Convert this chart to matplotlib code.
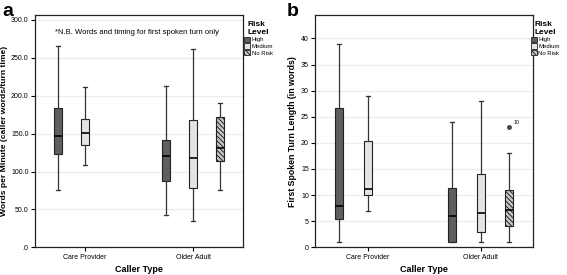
import numpy as np
import matplotlib
matplotlib.use("Agg")
import matplotlib.pyplot as plt
import matplotlib.patches as mpatches

plt.rcParams["font.family"] = ["Liberation Sans", "DejaVu Sans"]
plt.rcParams["hatch.linewidth"] = 0.7

GROUPS = ["Care Provider", "Older Adult"]
LEVELS = ["High", "Medium", "No Risk"]
L_COLOR = {"High": "#5f5f5f", "Medium": "#e4e4e4", "No Risk": "#c8c8c8"}
L_HATCH = {"High": None, "Medium": None, "No Risk": "\\\\\\\\\\\\\\"}
L_OFFSET = {"High": -0.25, "Medium": 0.0, "No Risk": 0.25}

# panel a: words per minute  (group, level, whislo, q1, med, q3, whishi)
WPM_GROUP = [0, 0, 1, 1, 1]
WPM_LEVEL = ["High", "Medium", "High", "Medium", "No Risk"]
WPM_LO = [75.6, 109, 43, 35.3, 75.6]
WPM_Q1 = [123, 135, 88, 78.6, 114.5]
WPM_MED = [146.7, 151, 121, 118.4, 131.3]
WPM_Q3 = [184, 168.8, 141, 168, 172.4]
WPM_HI = [266, 211, 213, 261.7, 191]

# panel b: first spoken turn length
LEN_GROUP = [0, 0, 1, 1, 1]
LEN_LEVEL = ["High", "Medium", "High", "Medium", "No Risk"]
LEN_LO = [1, 7, 1, 1, 1]
LEN_Q1 = [5.5, 10, 1, 3, 4]
LEN_MED = [8, 11.1, 6, 6.5, 7.1]
LEN_Q3 = [26.6, 20.4, 11.4, 14, 11]
LEN_HI = [39, 29, 24, 28, 18]
LEN_FLIERS = [[], [], [], [], [23.1]]
OUTLIER_LABEL = "10"


def draw_panel(ax, groups, levels, lo, q1, med, q3, hi, fliers=None,
               leg_x=1.0):
    stats = []
    pos = []
    for i in range(len(groups)):
        stats.append(dict(whislo=lo[i], q1=q1[i], med=med[i], q3=q3[i],
                          whishi=hi[i],
                          fliers=fliers[i] if fliers else []))
        pos.append(groups[i] + L_OFFSET[levels[i]])
    bp = ax.bxp(stats, positions=pos, widths=0.07, capwidths=0.035,
                patch_artist=True, showfliers=True,
                boxprops=dict(linewidth=0.8, edgecolor="#222222"),
                whiskerprops=dict(linewidth=0.9, color="#333333"),
                capprops=dict(linewidth=0.9, color="#333333"),
                medianprops=dict(linewidth=1.2, color="black"),
                flierprops=dict(marker="o", markersize=2.5,
                                markerfacecolor="#444444",
                                markeredgecolor="#444444"))
    for box, lev in zip(bp["boxes"], levels):
        box.set_facecolor(L_COLOR[lev])
        if L_HATCH[lev]:
            box.set_hatch(L_HATCH[lev])
    ax.set_xlim(-0.465, 1.463)
    ax.set_xticks([0, 1])
    ax.set_xticklabels(GROUPS, fontsize=5)
    ax.set_xlabel("Caller Type", fontsize=6.5, fontweight="bold", labelpad=3)
    ax.tick_params(axis="both", length=3, width=0.8, labelsize=5, pad=1.5)
    ax.grid(axis="y", color="#ececec", linewidth=0.9)
    ax.set_axisbelow(True)
    for s in ax.spines.values():
        s.set_linewidth(0.9)
        s.set_color("#222222")
    handles = [mpatches.Patch(facecolor=L_COLOR[l], edgecolor="#222222",
                              hatch=L_HATCH[l], linewidth=0.6, label=l)
               for l in LEVELS]
    leg = ax.legend(handles=handles, title="Risk\nLevel", loc="upper left",
                    bbox_to_anchor=(leg_x, 0.98), frameon=False, fontsize=4.3,
                    handlelength=1.0, handleheight=1.0, handletextpad=0.25,
                    labelspacing=0.15, borderaxespad=0.0, borderpad=0.2)
    leg.get_title().set_fontsize(6)
    leg.get_title().set_fontweight("bold")
    return bp


fig = plt.figure(figsize=(5.67, 2.75), dpi=100)

ax_a = fig.add_axes([0.0617, 0.1007, 0.3669, 0.8448])
draw_panel(ax_a, WPM_GROUP, WPM_LEVEL, WPM_LO, WPM_Q1, WPM_MED, WPM_Q3, WPM_HI)
ax_a.set_ylim(0, 306.6)
ax_a.set_yticks([0, 50, 100, 150, 200, 250, 300])
ax_a.set_yticklabels([".0", "50.0", "100.0", "150.0", "200.0", "250.0", "300.0"])
ax_a.set_ylabel("Words per Minute (caller words/turn time)", fontsize=6.1,
                fontweight="bold", labelpad=2)
ax_a.text(0.48, 284, "*N.B. Words and timing for first spoken turn only",
          ha="center", va="center", fontsize=5.5)

ax_b = fig.add_axes([0.5556, 0.1007, 0.3845, 0.8448])
draw_panel(ax_b, LEN_GROUP, LEN_LEVEL, LEN_LO, LEN_Q1, LEN_MED, LEN_Q3, LEN_HI,
           fliers=LEN_FLIERS, leg_x=0.985)
ax_b.set_ylim(0, 44.5)
ax_b.set_yticks(np.arange(0, 41, 5))
ax_b.set_ylabel("First Spoken Turn Length (in words)", fontsize=6.3,
                fontweight="bold", labelpad=3)
ax_b.annotate(OUTLIER_LABEL, xy=(1.25, LEN_FLIERS[4][0]), xytext=(3, 2),
              textcoords="offset points", fontsize=3.8)

fig.text(0.004, 0.99, "a", fontsize=14, fontweight="bold", va="top")
fig.text(0.506, 0.99, "b", fontsize=14, fontweight="bold", va="top")

fig.savefig("out.png", dpi=100)
